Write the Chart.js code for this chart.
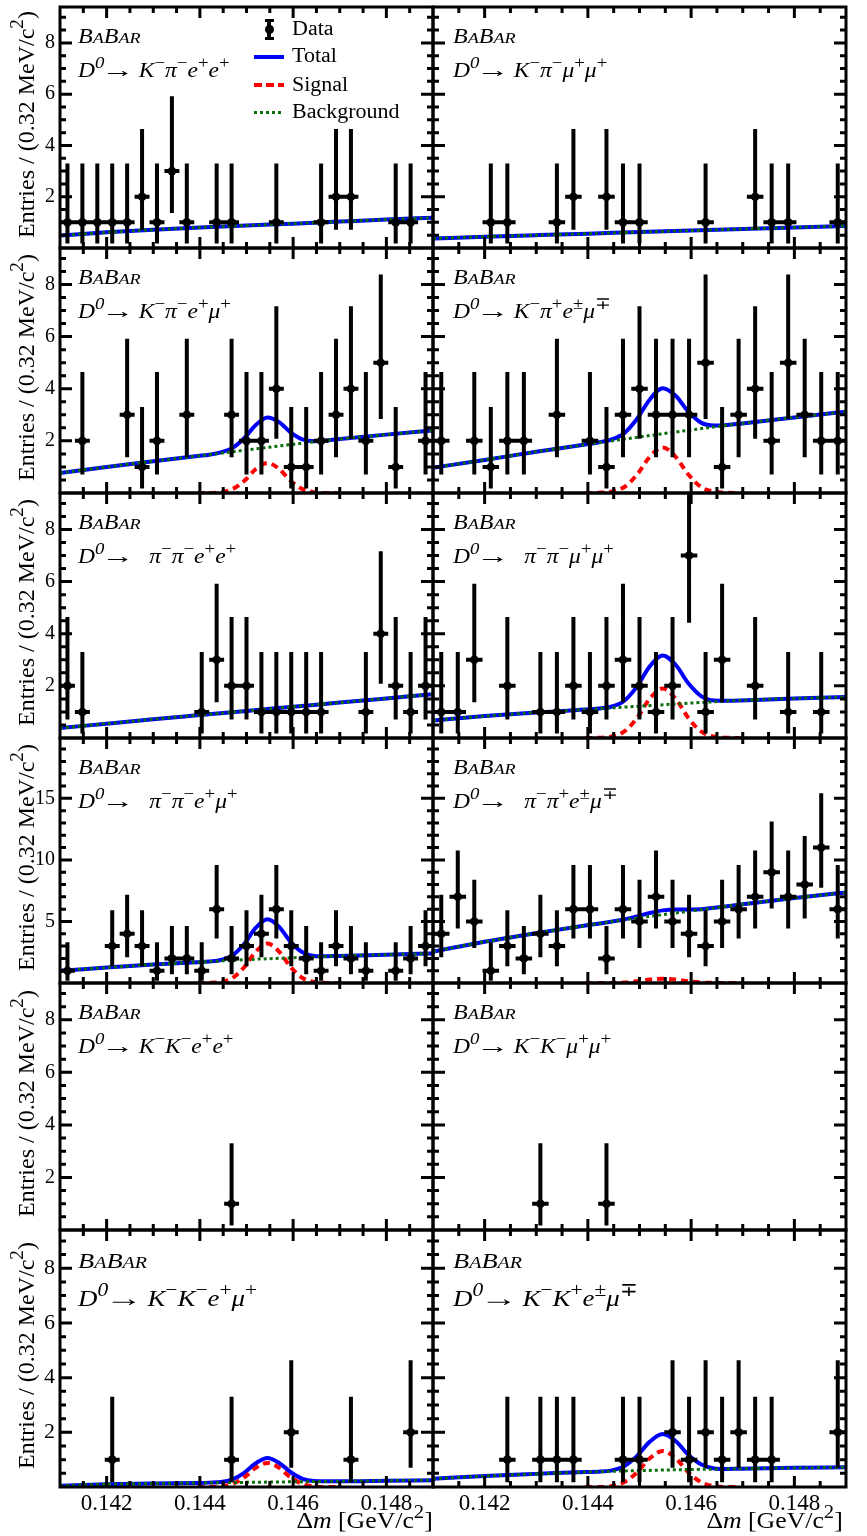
<!DOCTYPE html>
<html>
<head>
<meta charset="utf-8">
<title>BaBar D0 fits</title>
<script src="https://cdn.jsdelivr.net/npm/chart.js@4.4.1/dist/chart.umd.min.js"></script>
<style>
  html, body { margin:0; padding:0; background:#fff; }
  #wrap { position:relative; width:867px; height:1536px; overflow:hidden; background:#fff; }
  #wrap canvas { position:absolute; z-index:1; }
  .t { position:absolute; z-index:2; white-space:nowrap; font-family:"Liberation Serif","Times New Roman",serif; line-height:1; color:#000; }
  .t sup { font-size:0.8em; line-height:0; vertical-align:baseline; position:relative; top:-0.55em; }
  .it { font-style:italic; }
  .sc { font-size:0.76em; }
  .arr { display:inline-block; font-style:normal; transform:scaleX(1.4); transform-origin:left center; margin-left:-0.14em; margin-right:0.6em; }
  .arr.wide { margin-right:1.05em; }
  .sym { position:absolute; z-index:2; }
</style>
</head>
<body>
<div id="wrap"></div>
<script>
// ---------------- data ----------------
const binCenters = [0.14116, 0.14148, 0.14180, 0.14212, 0.14244, 0.14276, 0.14308, 0.14340, 0.14372, 0.14404,
                    0.14436, 0.14468, 0.14500, 0.14532, 0.14564, 0.14596, 0.14628, 0.14660, 0.14692, 0.14724,
                    0.14756, 0.14788, 0.14820, 0.14852, 0.14884];
const binHalfWidth = 0.00016;
const xTickValues = [0.142, 0.144, 0.146, 0.148];
const xMinorTicks = [0.1415, 0.1425, 0.143, 0.1435, 0.1445, 0.145, 0.1455, 0.1465, 0.147, 0.1475, 0.1485];
const yTicksStd = [2, 4, 6, 8];
const yMinorStd = [0.5, 1, 1.5, 2.5, 3, 3.5, 4.5, 5, 5.5, 6.5, 7, 7.5, 8.5, 9];
const yTicksWide = [5, 10, 15];
const yMinorWide = [1, 2, 3, 4, 6, 7, 8, 9, 11, 12, 13, 14, 16, 17, 18, 19];
const poissonLow  = [0, 0.173, 0.708, 1.367, 2.086, 2.840, 3.620, 4.419, 5.232, 6.057, 6.891, 7.734];
const poissonHigh = [1.841, 3.300, 4.638, 5.918, 7.163, 8.382, 9.584, 10.77, 11.95, 13.11, 14.27, 15.42];

const curveX  = [0.141, 0.142, 0.143, 0.144, 0.145, 0.146, 0.147, 0.148, 0.149];
const signalX = [0.14395, 0.1442, 0.14445, 0.1447, 0.14495, 0.1452, 0.14545, 0.1457, 0.14595, 0.1462, 0.14645, 0.1467, 0.14695];
const totalX  = [0.141, 0.142, 0.143, 0.14395, 0.1442, 0.14445, 0.1447, 0.14495, 0.1452, 0.14545, 0.1457, 0.14595, 0.1462, 0.14645, 0.1467, 0.14695, 0.148, 0.149];

// K- pi- e+ e+
const countsKPiEE = [1,1,1,1,1,2,1,3,1,0,1,1,0,0,1,0,0,1,2,2,0,0,1,1,0];
const bgKPiEE     = [0.49, 0.61, 0.71, 0.80, 0.88, 0.95, 1.03, 1.11, 1.18];
// K- pi- mu+ mu+
const countsKPiMM = [0,0,0,1,1,0,0,1,2,0,2,1,1,0,0,0,1,0,0,2,1,1,0,0,1];
const bgKPiMM     = [0.37, 0.44, 0.50, 0.56, 0.62, 0.68, 0.74, 0.80, 0.86];
// K- pi- e+ mu+
const countsKPiEM = [0,2,0,0,3,1,2,0,3,0,0,3,2,2,4,1,1,2,3,4,2,5,1,0,2];
const bgKPiEM     = [0.77, 1.00, 1.22, 1.43, 1.65, 1.87, 2.07, 2.24, 2.40];
const sigKPiEM    = [0, 0, 0.03, 0.15, 0.46, 0.92, 1.15, 0.92, 0.46, 0.15, 0.03, 0, 0];
const totKPiEM    = [0.77, 1.00, 1.22, 1.42, 1.47, 1.56, 1.73, 2.10, 2.61, 2.90, 2.72, 2.32, 2.06, 1.99, 2.01, 2.06, 2.24, 2.40];
// K- pi+ e mu (opposite sign)
const countsKPiEMos = [2,0,2,1,2,2,0,3,0,2,1,3,4,3,3,3,5,1,3,4,2,5,3,2,2];
const bgKPiEMos     = [0.97, 1.27, 1.58, 1.87, 2.15, 2.42, 2.67, 2.90, 3.12];
const sigKPiEMos    = [0, 0.01, 0.05, 0.22, 0.70, 1.39, 1.75, 1.39, 0.70, 0.22, 0.05, 0.01, 0];
const totKPiEMos    = [0.97, 1.27, 1.58, 1.86, 1.94, 2.05, 2.29, 2.84, 3.59, 4.02, 3.73, 3.11, 2.69, 2.59, 2.61, 2.66, 2.90, 3.12];
// pi- pi- e+ e+
const countsPiPiEE = [2,1,0,0,0,0,0,0,0,1,3,2,2,1,1,1,1,1,0,0,1,4,2,1,2];
const bgPiPiEE     = [0.38, 0.55, 0.72, 0.88, 1.04, 1.20, 1.36, 1.52, 1.68];
// pi- pi- mu+ mu+
const countsPiPiMM = [1,1,3,0,2,0,1,1,2,1,2,3,2,1,2,7,1,3,0,2,0,1,0,1,0];
const bgPiPiMM     = [0.67, 0.84, 0.98, 1.10, 1.22, 1.34, 1.45, 1.52, 1.57];
const sigPiPiMM    = [0, 0.01, 0.05, 0.24, 0.76, 1.51, 1.90, 1.51, 0.76, 0.24, 0.05, 0.01, 0];
const totPiPiMM    = [0.67, 0.84, 0.98, 1.09, 1.13, 1.20, 1.42, 1.97, 2.75, 3.17, 2.81, 2.09, 1.60, 1.44, 1.43, 1.44, 1.52, 1.57];
// pi- pi- e+ mu+
const countsPiPiEM = [1,0,0,3,4,3,1,2,2,1,6,2,3,4,6,3,2,1,3,2,1,0,1,2,3];
const bgPiPiEM     = [1.00, 1.25, 1.50, 1.70, 1.90, 2.05, 2.20, 2.30, 2.40];
const sigPiPiEM    = [0, 0.01, 0.08, 0.41, 1.28, 2.55, 3.20, 2.55, 1.28, 0.41, 0.08, 0.01, 0];
const totPiPiEM    = [1.00, 1.25, 1.50, 1.69, 1.75, 1.87, 2.25, 3.17, 4.49, 5.17, 4.56, 3.32, 2.49, 2.20, 2.17, 2.19, 2.30, 2.40];
// pi- pi+ e mu (opposite sign)
const countsPiPiEMos = [4,7,5,1,3,2,4,3,6,6,2,6,5,7,5,4,3,5,6,7,9,7,8,11,6];
const bgPiPiEMos     = [2.55, 3.35, 4.05, 4.70, 5.30, 5.85, 6.40, 6.90, 7.35];
const sigPiPiEMos    = [0, 0, 0.01, 0.04, 0.14, 0.28, 0.35, 0.28, 0.14, 0.04, 0.01, 0, 0];
const totPiPiEMos    = [2.55, 3.35, 4.05, 4.67, 4.82, 4.98, 5.16, 5.41, 5.69, 5.90, 5.97, 5.96, 6.00, 6.11, 6.24, 6.37, 6.90, 7.35];
// K- K- e+ e+
const countsKKEE = [0,0,0,0,0,0,0,0,0,0,0,1,0,0,0,0,0,0,0,0,0,0,0,0,0];
// K- K- mu+ mu+
const countsKKMM = [0,0,0,0,0,0,1,0,0,0,1,0,0,0,0,0,0,0,0,0,0,0,0,0,0];
// K- K- e+ mu+
const countsKKEM = [0,0,0,1,0,0,0,0,0,0,0,1,0,0,0,2,0,0,0,1,0,0,0,2,0];
const bgKKEM     = [0.05, 0.10, 0.13, 0.15, 0.17, 0.19, 0.21, 0.23, 0.25];
const sigKKEM    = [0, 0, 0.02, 0.11, 0.35, 0.70, 0.88, 0.70, 0.35, 0.11, 0.02, 0, 0];
const totKKEM    = [0.05, 0.10, 0.13, 0.15, 0.16, 0.18, 0.28, 0.52, 0.87, 1.06, 0.88, 0.54, 0.30, 0.22, 0.21, 0.21, 0.23, 0.25];
// K- K+ e mu (opposite sign)
const countsKKEMos = [0,0,0,0,1,0,1,1,1,0,0,1,1,0,2,1,2,1,2,1,1,0,0,0,2];
const bgKKEMos     = [0.30, 0.40, 0.48, 0.55, 0.60, 0.64, 0.67, 0.70, 0.72];
const sigKKEMos    = [0, 0, 0.03, 0.17, 0.53, 1.05, 1.32, 1.05, 0.53, 0.17, 0.03, 0, 0];
const totKKEMos    = [0.30, 0.40, 0.48, 0.55, 0.56, 0.60, 0.76, 1.13, 1.66, 1.94, 1.68, 1.17, 0.82, 0.68, 0.66, 0.67, 0.70, 0.72];

const decayLabels = [
  ['K','−','π','−','e','+','e','+'], ['K','−','π','−','μ','+','μ','+'],
  ['K','−','π','−','e','+','μ','+'], ['K','−','π','+','e','±','μ','∓'],
  ['π','−','π','−','e','+','e','+'], ['π','−','π','−','μ','+','μ','+'],
  ['π','−','π','−','e','+','μ','+'], ['π','−','π','+','e','±','μ','∓'],
  ['K','−','K','−','e','+','e','+'], ['K','−','K','−','μ','+','μ','+'],
  ['K','−','K','−','e','+','μ','+'], ['K','−','K','+','e','±','μ','∓']
];
const legendLabels = ['Data', 'Total', 'Signal', 'Background'];

const panels = [
  {counts: countsKPiEE, bg: bgKPiEE, tot: bgKPiEE, totX: curveX},
  {counts: countsKPiMM, bg: bgKPiMM, tot: bgKPiMM, totX: curveX},
  {counts: countsKPiEM, bg: bgKPiEM, sig: sigKPiEM, tot: totKPiEM, totX: totalX},
  {counts: countsKPiEMos, bg: bgKPiEMos, sig: sigKPiEMos, tot: totKPiEMos, totX: totalX},
  {counts: countsPiPiEE, bg: bgPiPiEE, tot: bgPiPiEE, totX: curveX},
  {counts: countsPiPiMM, bg: bgPiPiMM, sig: sigPiPiMM, tot: totPiPiMM, totX: totalX},
  {counts: countsPiPiEM, bg: bgPiPiEM, sig: sigPiPiEM, tot: totPiPiEM, totX: totalX},
  {counts: countsPiPiEMos, bg: bgPiPiEMos, sig: sigPiPiEMos, tot: totPiPiEMos, totX: totalX},
  {counts: countsKKEE},
  {counts: countsKKMM},
  {counts: countsKKEM, bg: bgKKEM, sig: sigKKEM, tot: totKKEM, totX: totalX},
  {counts: countsKKEMos, bg: bgKKEMos, sig: sigKKEMos, tot: totKKEMos, totX: totalX}
];

// ---------------- layout / style ----------------
const colLeft = [60, 433], colRight = [433, 846];
const rowTop = [7, 248, 493, 738, 983, 1230];
const rowBottom = [248, 493, 738, 983, 1230, 1487];
const BLUE = '#0000ff', RED = '#ff0000', GREEN = '#0a6e0a';
const SERIF = '"Liberation Serif","Times New Roman",serif';
const wrap = document.getElementById('wrap');

function framePlugin(yMajor, yMinor) {
  return {
    id: 'rootFrame',
    afterDraw(chart) {
      const ctx = chart.ctx, a = chart.chartArea, xs = chart.scales.x, ys = chart.scales.y;
      ctx.save();
      ctx.strokeStyle = '#000';
      ctx.lineWidth = 3;
      ctx.lineCap = 'butt';
      ctx.beginPath();
      const tx = (vals, len) => vals.forEach(v => {
        const px = xs.getPixelForValue(v);
        ctx.moveTo(px, a.bottom); ctx.lineTo(px, a.bottom - len);
        ctx.moveTo(px, a.top); ctx.lineTo(px, a.top + len);
      });
      const ty = (vals, len) => vals.forEach(v => {
        const py = ys.getPixelForValue(v);
        ctx.moveTo(a.left, py); ctx.lineTo(a.left + len, py);
        ctx.moveTo(a.right, py); ctx.lineTo(a.right - len, py);
      });
      tx(xTickValues, 11); tx(xMinorTicks, 6);
      ty(yMajor, 12); ty(yMinor, 6);
      ctx.stroke();
      ctx.strokeRect(a.left, a.top, a.right - a.left, a.bottom - a.top);
      ctx.restore();
    }
  };
}

function buildDatasets(p) {
  const pts = [], hbar = [], vbar = [];
  p.counts.forEach((n, i) => {
    if (!n) return;
    const c = binCenters[i];
    pts.push({x: c, y: n});
    hbar.push({x: c - binHalfWidth, y: n}, {x: c + binHalfWidth, y: n}, {x: c, y: null});
    vbar.push({x: c, y: poissonLow[n]}, {x: c, y: poissonHigh[n]}, {x: c, y: null});
  });
  const line = {showLine: true, pointRadius: 0, spanGaps: false, fill: false, clip: 0};
  const ds = [
    {data: pts, showLine: false, pointRadius: 4.3, pointBackgroundColor: '#000', pointBorderWidth: 0, clip: 0},
    Object.assign({data: hbar, borderColor: '#000', borderWidth: 4, tension: 0}, line),
    Object.assign({data: vbar, borderColor: '#000', borderWidth: 4, tension: 0}, line)
  ];
  if (p.bg) ds.push(Object.assign({data: curveX.map((x, i) => ({x, y: p.bg[i]})), borderColor: GREEN, borderWidth: 3, borderDash: [3, 3], cubicInterpolationMode: 'monotone'}, line));
  if (p.sig) ds.push(Object.assign({data: signalX.map((x, i) => ({x, y: p.sig[i]})), borderColor: RED, borderWidth: 4, borderDash: [7, 5], cubicInterpolationMode: 'monotone'}, line));
  if (p.tot) ds.push(Object.assign({data: p.totX.map((x, i) => ({x, y: p.tot[i]})), borderColor: BLUE, borderWidth: 4, cubicInterpolationMode: 'monotone'}, line));
  return ds;
}

function zeroPad(s) { s.paddingTop = 0; s.paddingBottom = 0; s.paddingLeft = 0; s.paddingRight = 0; }

function makePanel(idx) {
  const r = Math.floor(idx / 2), c = idx % 2, p = panels[idx];
  const L = colLeft[c], R = colRight[c], T = rowTop[r], B = rowBottom[r];
  const ml = c === 0 ? 60 : 6, mr = 6, mt = 6, mb = r === 5 ? 40 : 6;
  const W = (R - L) + ml + mr, H = (B - T) + mt + mb;
  const cv = document.createElement('canvas');
  cv.width = W; cv.height = H;
  cv.style.left = (L - ml) + 'px'; cv.style.top = (T - mt) + 'px';
  cv.style.width = W + 'px'; cv.style.height = H + 'px';
  wrap.appendChild(cv);
  const wide = r === 3;
  const yMajor = wide ? yTicksWide : yTicksStd;
  const yMinor = wide ? yMinorWide : yMinorStd;
  const tickFont = r === 5 ? 22 : 20;
  new Chart(cv, {
    type: 'scatter',
    data: {datasets: buildDatasets(p)},
    options: {
      responsive: false, animation: false, devicePixelRatio: 1, events: [],
      layout: {padding: {left: 0, right: mr, top: mt, bottom: 0}},
      plugins: {legend: {display: false}, tooltip: {enabled: false}},
      scales: {
        x: {
          type: 'linear', min: 0.141, max: 0.149,
          grid: {display: false, drawTicks: false}, border: {display: false},
          afterBuildTicks: s => { s.ticks = xTickValues.map(v => ({value: v})); },
          afterFit: s => { s.height = mb; zeroPad(s); },
          ticks: {display: r === 5, autoSkip: false, maxRotation: 0, padding: 3, color: '#000',
                  font: {family: SERIF, size: 23}, callback: v => Number(v).toFixed(3)}
        },
        y: {
          type: 'linear', min: 0, max: wide ? 19.9 : 9.4,
          grid: {display: false, drawTicks: false}, border: {display: false},
          afterBuildTicks: s => { s.ticks = yMajor.map(v => ({value: v})); },
          afterFit: s => { s.width = ml; zeroPad(s); },
          ticks: {display: c === 0, padding: 5, color: '#000',
                  font: {family: SERIF, size: tickFont}, callback: v => String(v)}
        }
      }
    },
    plugins: [framePlugin(yMajor, yMinor)]
  });
}

for (let i = 0; i < panels.length; i++) makePanel(i);

// ---------------- text ----------------
function addText(html, x, baseline, size, scale, alignRight, extraCls) {
  const d = document.createElement('div');
  d.className = 't' + (extraCls ? ' ' + extraCls : '');
  d.innerHTML = html;
  d.style.fontSize = size + 'px';
  d.style.top = (baseline - 0.8375 * size) + 'px';
  if (alignRight) { d.style.right = (867 - x) + 'px'; d.style.transformOrigin = 'right center'; }
  else { d.style.left = x + 'px'; d.style.transformOrigin = 'left center'; }
  d.style.transform = 'scaleX(' + scale + ')';
  wrap.appendChild(d);
  return d;
}
function decayHTML(parts) {
  const wideGap = parts[0] === 'π';
  let h = '<span class="it">D<sup>0</sup></span><span class="arr' + (wideGap ? ' wide' : '') + '">→</span>';
  for (let i = 0; i < parts.length; i += 2) h += '<span class="it">' + parts[i] + '</span><sup>' + parts[i + 1] + '</sup>';
  return h;
}
const babarHTML = 'B<span class="sc">A</span>B<span class="sc">AR</span>';

for (let idx = 0; idx < 12; idx++) {
  const r = Math.floor(idx / 2), c = idx % 2;
  const x0 = colLeft[c] + (c === 0 ? 18 : 20);
  const last = r === 5;
  addText(babarHTML, x0, rowTop[r] + (last ? 38 : 35.5), last ? 22 : 20, 1.2, false, 'it');
  addText(decayHTML(decayLabels[idx]), x0, rowTop[r] + (last ? 76.5 : 71), last ? 24 : 21, 1.12, false);
}

// y titles
for (let r = 0; r < 6; r++) {
  const d = document.createElement('div');
  d.className = 't';
  d.innerHTML = 'Entries / (0.32 MeV/c<sup>2</sup>)';
  const h = rowBottom[r] - rowTop[r];
  d.style.fontSize = '24px';
  d.style.width = h + 'px';
  d.style.textAlign = 'center';
  d.style.left = '14px';
  d.style.top = (rowBottom[r] - 3) + 'px';
  d.style.transformOrigin = '0 0';
  d.style.transform = 'rotate(-90deg)';
  wrap.appendChild(d);
}

// x titles
addText('Δ<span class="it">m</span> [GeV/c<sup>2</sup>]', 433, 1528, 23, 1.12, true);
addText('Δ<span class="it">m</span> [GeV/c<sup>2</sup>]', 843, 1528, 23, 1.12, true);

// legend (panel 1)
function sym(x, y, w, h, css) {
  const d = document.createElement('div');
  d.className = 'sym';
  d.style.left = x + 'px'; d.style.top = y + 'px';
  d.style.width = w + 'px'; d.style.height = h + 'px';
  Object.assign(d.style, css);
  wrap.appendChild(d);
}
sym(267, 20, 4, 20, {background: '#000'});
sym(264.5, 19, 9, 3, {background: '#000'});
sym(264.5, 37, 9, 3, {background: '#000'});
sym(264.5, 24.5, 9, 9, {background: '#000', borderRadius: '50%'});
sym(254, 54.5, 30, 4.5, {background: BLUE});
sym(254, 83, 30, 4, {background: 'repeating-linear-gradient(90deg,' + RED + ' 0 8px, transparent 8px 12px)'});
sym(254, 110.5, 30, 3, {background: 'repeating-linear-gradient(90deg,' + GREEN + ' 0 3px, transparent 3px 6px)'});
const legendBase = [35, 61.7, 90.5, 117.7];
legendLabels.forEach((s, i) => addText(s, 292, legendBase[i], 20, 1.1, false));
</script>
</body>
</html>
